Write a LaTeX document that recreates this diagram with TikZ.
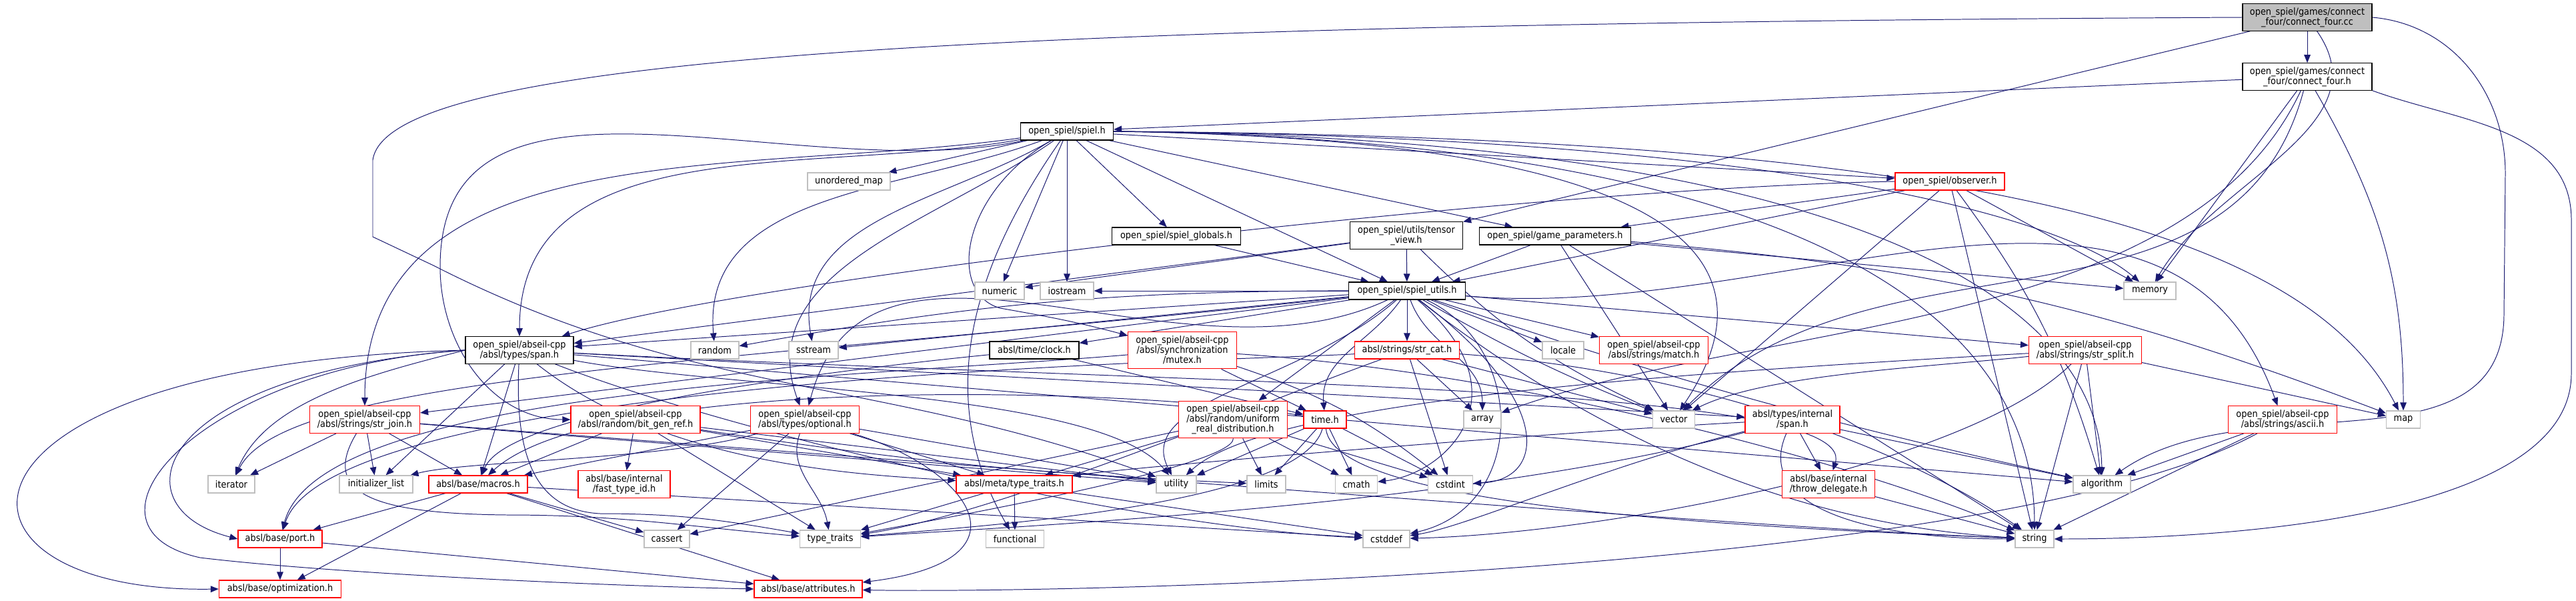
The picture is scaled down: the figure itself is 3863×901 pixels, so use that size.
\documentclass[tikz,border=0pt]{standalone}
\usepackage{fontspec}
\setmainfont{DejaVu Sans}[FakeStretch=0.9]
\usetikzlibrary{arrows.meta}
\definecolor{EdgeBlue}{HTML}{191970}
\definecolor{Frame}{HTML}{000000}
\definecolor{Missing}{HTML}{FF0000}
\definecolor{Stdlib}{HTML}{BFBFBF}
\definecolor{Current}{HTML}{BFBFBF}
\pgfdeclarelayer{wires}
\pgfsetlayers{wires,main}

\begin{document}
\begin{tikzpicture}[x=0.25mm,y=0.25mm,
    font=\fontsize{10.2}{10.7}\selectfont,
    hdr/.style={draw=Frame,line width=0.9pt,fill=white,align=center,
      inner xsep=1mm,inner ysep=0pt,minimum height=6.5mm},
    stdhdr/.style={hdr,draw=Stdlib},
    cuthdr/.style={hdr,draw=Missing},
    twoline/.style={minimum height=10.1mm},
    threeline/.style={minimum height=13.9mm},
    wd/.style={minimum width=#1*0.25mm},
    inc/.style={draw=EdgeBlue,line width=0.7pt,
      -{Triangle[length=3mm,width=2.4mm]}}]
  \useasboundingbox (0,0) rectangle (3863,-901);

  % top rows
  \node[hdr,fill=Current,twoline,wd=194] (cc) at (3460,-26)
    {open\_spiel/games/connect\\\_four/connect\_four.cc};
  \node[hdr,twoline,wd=194] (cfh) at (3460,-115)
    {open\_spiel/games/connect\\\_four/connect\_four.h};
  \node[hdr,wd=139] (spiel) at (1600,-197) {open\_spiel/spiel.h};
  \node[stdhdr,wd=124] (umap) at (1273,-272) {unordered\_map};
  \node[cuthdr,wd=164] (observer) at (2924,-272) {open\_spiel/observer.h};
  \node[hdr,twoline,wd=169] (tensor) at (2109,-353)
    {open\_spiel/utils/tensor\\\_view.h};
  \node[hdr,wd=227] (gparams) at (2332,-354) {open\_spiel/game\_parameters.h};
  \node[hdr,wd=193] (globals) at (1764,-354) {open\_spiel/spiel\_globals.h};
  \node[stdhdr,wd=74] (numeric) at (1499,-436) {numeric};
  \node[stdhdr,wd=80] (iostream) at (1600,-436) {iostream};
  \node[hdr,wd=175] (utils) at (2110,-436) {open\_spiel/spiel\_utils.h};
  \node[stdhdr,wd=78] (memory) at (3224,-436) {memory};

  % abseil row
  \node[hdr,twoline,wd=162] (span) at (779,-525)
    {open\_spiel/abseil-cpp\\/absl/types/span.h};
  \node[stdhdr,wd=72] (random) at (1072,-525) {random};
  \node[stdhdr,wd=74] (sstream) at (1220,-525) {sstream};
  \node[hdr,wd=134] (clock) at (1551,-525) {absl/time/clock.h};
  \node[cuthdr,threeline,wd=163] (mutex) at (1773,-525)
    {open\_spiel/abseil-cpp\\/absl/synchronization\\/mutex.h};
  \node[cuthdr,wd=157] (strcat) at (2110,-525) {absl/strings/str\_cat.h};
  \node[stdhdr,wd=62] (locale) at (2344,-525) {locale};
  \node[cuthdr,twoline,wd=163] (match) at (2480,-525)
    {open\_spiel/abseil-cpp\\/absl/strings/match.h};
  \node[cuthdr,twoline,wd=169] (split) at (3127,-525)
    {open\_spiel/abseil-cpp\\/absl/strings/str\_split.h};

  \node[cuthdr,twoline,wd=165] (strjoin) at (547,-629)
    {open\_spiel/abseil-cpp\\/absl/strings/str\_join.h};
  \node[cuthdr,twoline,wd=194] (bitgen) at (953,-629)
    {open\_spiel/abseil-cpp\\/absl/random/bit\_gen\_ref.h};
  \node[cuthdr,twoline,wd=163] (optional) at (1207,-629)
    {open\_spiel/abseil-cpp\\/absl/types/optional.h};
  \node[cuthdr,threeline,wd=163] (uniform) at (1849,-629)
    {open\_spiel/abseil-cpp\\/absl/random/uniform\\\_real\_distribution.h};
  \node[cuthdr,wd=64] (timeh) at (1987,-629) {time.h};
  \node[stdhdr,wd=56] (array) at (2223,-629) {array};
  \node[stdhdr,wd=63] (vector) at (2510,-629) {vector};
  \node[cuthdr,twoline,wd=142] (ispan) at (2688,-629)
    {absl/types/internal\\/span.h};
  \node[cuthdr,twoline,wd=163] (ascii) at (3423,-629)
    {open\_spiel/abseil-cpp\\/absl/strings/ascii.h};
  \node[stdhdr,wd=51] (map) at (3604,-629) {map};

  % lower rows
  \node[stdhdr,wd=70] (iterator) at (347,-726) {iterator};
  \node[stdhdr,wd=110] (initlist) at (564,-726) {initializer\_list};
  \node[cuthdr,wd=148] (macros) at (717,-726) {absl/base/macros.h};
  \node[cuthdr,twoline,wd=138] (fasttid) at (936,-726)
    {absl/base/internal\\/fast\_type\_id.h};
  \node[cuthdr,wd=174] (metatt) at (1521,-726) {absl/meta/type\_traits.h};
  \node[stdhdr,wd=60] (utility) at (1764,-726) {utility};
  \node[stdhdr,wd=58] (limits) at (1899,-726) {limits};
  \node[stdhdr,wd=63] (cmath) at (2034,-726) {cmath};
  \node[stdhdr,wd=67] (cstdint) at (2175,-726) {cstdint};
  \node[cuthdr,twoline,wd=139] (throwdel) at (2742,-726)
    {absl/base/internal\\/throw\_delegate.h};
  \node[stdhdr,wd=86] (algorithm) at (3152,-726) {algorithm};
  \node[cuthdr,wd=126] (port) at (420,-808) {absl/base/port.h};
  \node[stdhdr,wd=68] (cassert) at (1000,-808) {cassert};
  \node[stdhdr,wd=91] (typetraits) at (1245,-808) {type\_traits};
  \node[stdhdr,wd=87] (functional) at (1522,-808) {functional};
  \node[stdhdr,wd=70] (cstddef) at (2079,-808) {cstddef};
  \node[stdhdr,wd=58] (string) at (3051,-808) {string};
  \node[cuthdr,wd=183] (optim) at (420,-883) {absl/base/optimization.h};
  \node[cuthdr,wd=162] (attrs) at (1212,-883) {absl/base/attributes.h};

  \begin{pgfonlayer}{wires}
    \fill[white] (0,0) rectangle (3863,-901);
    % connect_four.cc
    \draw[inc] (cc) -- (cfh);
    \draw[inc] (cc) -- (tensor);
    \draw[inc] (cc) to[out=-55,in=60] (memory);
    \draw[inc] (cc.east) to[out=-5,in=90] (3757,-260) -- (3755,-470)
      to[out=270,in=35] (algorithm);
    \draw[inc] (cc.west) .. controls (1400,-36) and (580,-90) .. (559,-240)
      -- (559,-355) -- (650,-398) to[out=-27,in=160] (utility);
    % connect_four.h
    \draw[inc] (cfh) -- (spiel);
    \draw[inc] (cfh) to[out=245,in=20,looseness=0.8] (array);
    \draw[inc] (cfh) -- (memory);
    \draw[inc] (cfh) to[out=255,in=45] (vector);
    \draw[inc] (cfh) to[out=-60,in=90] (map);
    \draw[inc] (cfh.south east) to[out=-20,in=90] (3856,-330) -- (3856,-560)
      to[out=270,in=0,looseness=0.7] (string);
    % spiel.h
    \draw[inc] (spiel) -- (umap);
    \draw[inc] (spiel) -- (numeric);
    \draw[inc] (spiel) -- (iostream);
    \draw[inc] (spiel) -- (globals);
    \draw[inc] (spiel) -- (gparams);
    \draw[inc] (spiel) -- (observer);
    \draw[inc] (spiel) -- (utils);
    \draw[inc] (spiel.east) .. controls (2700,-205) and (3100,-330) .. (memory);
    \draw[inc] (spiel.east) .. controls (2900,-205) and (3450,-330) .. (map);
    \draw[inc] (spiel.east) .. controls (2600,-210) and (2650,-420) .. (vector);
    \draw[inc] (spiel.east) .. controls (2800,-212) and (3050,-520) .. (string);
    \draw[inc] (spiel.east) .. controls (2850,-208) and (3150,-480) .. (algorithm);
    \draw[inc] (spiel) to[out=190,in=90] (span);
    \draw[inc] (spiel) to[out=188,in=90] (strjoin);
    \draw[inc] (spiel) to[out=192,in=90] (660,-400) to[out=270,in=180] (bitgen);
    \draw[inc] (spiel) to[out=200,in=95] (random);
    \draw[inc] (spiel) to[out=210,in=100] (sstream);
    \draw[inc] (spiel) .. controls (1440,-290) and (1420,-440) .. (1500,-462)
      to[out=-10,in=165] (mutex);
    \draw[inc] (spiel) to[out=215,in=110] (optional);
    \draw[inc] (spiel) to[out=235,in=120] (functional);
    % spiel_utils.h
    \draw[inc] (utils) -- (iostream);
    \draw[inc] (utils) -- (span);
    \draw[inc] (utils) to[bend right=5] (random);
    \draw[inc] (utils) -- (sstream);
    \draw[inc] (utils) -- (clock);
    \draw[inc] (utils) -- (strcat);
    \draw[inc] (utils) -- (locale);
    \draw[inc] (utils) -- (match);
    \draw[inc] (utils) -- (split);
    \draw[inc] (utils) -- (strjoin);
    \draw[inc] (utils) to[out=205,in=75] (optional);
    \draw[inc] (utils) -- (uniform);
    \draw[inc] (utils) to[out=-5,in=110] (ascii);
    \draw[inc] (utils) to[out=235,in=95] (timeh);
    \draw[inc] (utils) to[out=290,in=90] (array);
    \draw[inc] (utils) to[bend right=4] (vector);
    \draw[inc] (utils) .. controls (1100,-545) and (430,-560) .. (iterator);
    \draw[inc] (utils) .. controls (1950,-575) and (1700,-600) .. (utility);
    \draw[inc] (utils) .. controls (2290,-590) and (2170,-710) .. (cmath);
    \draw[inc] (utils) .. controls (2330,-600) and (2320,-720) .. (cstdint);
    \draw[inc] (utils) .. controls (2290,-520) and (2290,-760) .. (cstddef);
    \draw[inc] (utils) .. controls (2450,-700) and (2750,-790) .. (string);
    \draw[inc] (utils) to[bend right=3] (algorithm);
    % observer.h, game_parameters.h, tensor_view.h, spiel_globals.h
    \draw[inc] (observer.west) .. controls (2300,-282) and (1100,-420) .. (span);
    \draw[inc] (observer) -- (gparams);
    \draw[inc] (observer) -- (utils);
    \draw[inc] (observer) -- (memory);
    \draw[inc] (observer) -- (string);
    \draw[inc] (observer) -- (vector);
    \draw[inc] (observer) to[bend left=10] (algorithm);
    \draw[inc] (gparams) -- (utils);
    \draw[inc] (gparams) -- (memory);
    \draw[inc] (gparams) to[bend left=8] (map);
    \draw[inc] (gparams) -- (string);
    \draw[inc] (gparams) -- (vector);
    \draw[inc] (tensor) -- (utils);
    \draw[inc] (tensor) -- (span);
    \draw[inc] (tensor) -- (numeric);
    \draw[inc] (tensor) to[bend right=10] (vector);
    \draw[inc] (globals) -- (utils);
    % span.h
    \draw[inc] (span) -- (ispan);
    \draw[inc] (span.west) .. controls (560,-560) and (400,-600) .. (iterator);
    \draw[inc] (span) -- (initlist);
    \draw[inc] (span) -- (macros);
    \draw[inc] (span) .. controls (1000,-700) and (1300,-712) .. (metatt);
    \draw[inc] (span) .. controls (1100,-585) and (1650,-585) .. (utility);
    \draw[inc] (span) .. controls (1800,-578) and (2790,-575) .. (throwdel);
    \draw[inc] (span) -- (algorithm);
    \draw[inc] (span.west) .. controls (230,-560) and (170,-760) .. (port.west);
    \draw[inc] (span.west) .. controls (-120,-545) and (-120,-890) .. (optim.west);
    \draw[inc] (span.west) .. controls (300,-550) and (90,-790) .. (300,-836)
      .. controls (500,-860) and (900,-878) .. (attrs.west);
    \draw[inc] (span) .. controls (772,-680) and (800,-765) .. (900,-770)
      to[out=0,in=170] (typetraits);
    \draw[inc] (span) .. controls (1100,-650) and (1700,-790) .. (cstddef);
    % str_join.h, bit_gen_ref.h, optional.h
    \draw[inc] (strjoin) -- (iterator);
    \draw[inc] (strjoin) -- (initlist);
    \draw[inc] (strjoin) -- (macros);
    \draw[inc] (strjoin) -- (utility);
    \draw[inc] (strjoin) .. controls (480,-740) and (560,-770) .. (760,-772)
      to[out=0,in=175] (typetraits);
    \draw[inc] (strjoin) .. controls (1500,-700) and (2600,-790) .. (string);
    \draw[inc] (bitgen) -- (macros);
    \draw[inc] (bitgen) -- (fasttid);
    \draw[inc] (bitgen) -- (typetraits);
    \draw[inc] (bitgen) -- (metatt);
    \draw[inc] (bitgen) -- (utility);
    \draw[inc] (bitgen) to[bend right=3] (limits);
    \draw[inc] (optional) .. controls (1000,-690) and (700,-690) .. (initlist);
    \draw[inc] (optional) -- (macros);
    \draw[inc] (optional) -- (metatt);
    \draw[inc] (optional) -- (utility);
    \draw[inc] (optional) -- (cassert);
    \draw[inc] (optional) to[out=250,in=100] (typetraits);
    \draw[inc] (optional) .. controls (1450,-700) and (1560,-840) .. (attrs);
    % mutex.h, clock.h, uniform_real_distribution.h, time.h
    \draw[inc] (mutex) to[bend left=10] (cstdint);
    \draw[inc] (mutex) .. controls (2300,-560) and (2800,-700) .. (string);
    \draw[inc] (mutex) .. controls (1300,-565) and (480,-580) .. (port);
    \draw[inc] (mutex) -- (timeh);
    \draw[inc] (clock) .. controls (1200,-560) and (760,-620) .. (macros);
    \draw[inc] (clock) -- (timeh);
    \draw[inc] (uniform) -- (metatt);
    \draw[inc] (uniform) -- (cassert);
    \draw[inc] (uniform) .. controls (1850,-700) and (1400,-780) .. (typetraits);
    \draw[inc] (uniform) -- (limits);
    \draw[inc] (uniform) -- (cmath);
    \draw[inc] (uniform) -- (cstdint);
    \draw[inc] (timeh) .. controls (1700,-580) and (900,-560) .. (macros);
    \draw[inc] (timeh) -- (utility);
    \draw[inc] (timeh) -- (limits);
    \draw[inc] (timeh) -- (cmath);
    \draw[inc] (timeh) -- (cstdint);
    \draw[inc] (timeh) .. controls (2000,-760) and (2600,-790) .. (string);
    \draw[inc] (timeh) .. controls (1950,-760) and (1450,-790) .. (typetraits);
    % str_cat.h, str_split.h, internal/span.h, ascii.h
    \draw[inc] (strcat) -- (array);
    \draw[inc] (strcat) -- (cstdint);
    \draw[inc] (strcat) -- (vector);
    \draw[inc] (strcat) .. controls (1900,-540) and (500,-560) .. (port);
    \draw[inc] (strcat) .. controls (1900,-600) and (1500,-770) .. (typetraits);
    \draw[inc] (strcat) .. controls (2600,-560) and (2900,-700) .. (string);
    \draw[inc] (split) -- (algorithm);
    \draw[inc] (split) .. controls (2950,-700) and (2400,-800) .. (cstddef);
    \draw[inc] (split) -- (map);
    \draw[inc] (split) -- (string);
    \draw[inc] (split) .. controls (2500,-560) and (1900,-600) .. (utility);
    \draw[inc] (split) .. controls (2900,-550) and (2650,-560) .. (vector);
    \draw[inc] (ispan) -- (throwdel);
    \draw[inc] (ispan) -- (algorithm);
    \draw[inc] (ispan) .. controls (2630,-760) and (2800,-808) .. (string.west);
    \draw[inc] (ispan) .. controls (2400,-700) and (2200,-790) .. (cstddef);
    \draw[inc] (ispan) .. controls (2300,-650) and (1700,-700) .. (metatt);
    \draw[inc] (ispan) .. controls (2200,-760) and (1500,-790) .. (typetraits);
    \draw[inc] (ascii) -- (algorithm);
    \draw[inc] (ascii) -- (string);
    \draw[inc] (ascii) .. controls (3000,-860) and (1600,-890) .. (attrs);
    \draw[inc] (throwdel) -- (string);
    % absl/base and absl/meta
    \draw[inc] (macros) -- (port);
    \draw[inc] (macros) -- (optim);
    \draw[inc] (macros) -- (attrs);
    \draw[inc] (macros) -- (cassert);
    \draw[inc] (macros) -- (cstddef);
    \draw[inc] (port) -- (optim);
    \draw[inc] (port) -- (attrs);
    \draw[inc] (metatt) -- (functional);
    \draw[inc] (metatt) -- (typetraits);
    \draw[inc] (metatt) -- (cstddef);
  \end{pgfonlayer}
\end{tikzpicture}
\end{document}
